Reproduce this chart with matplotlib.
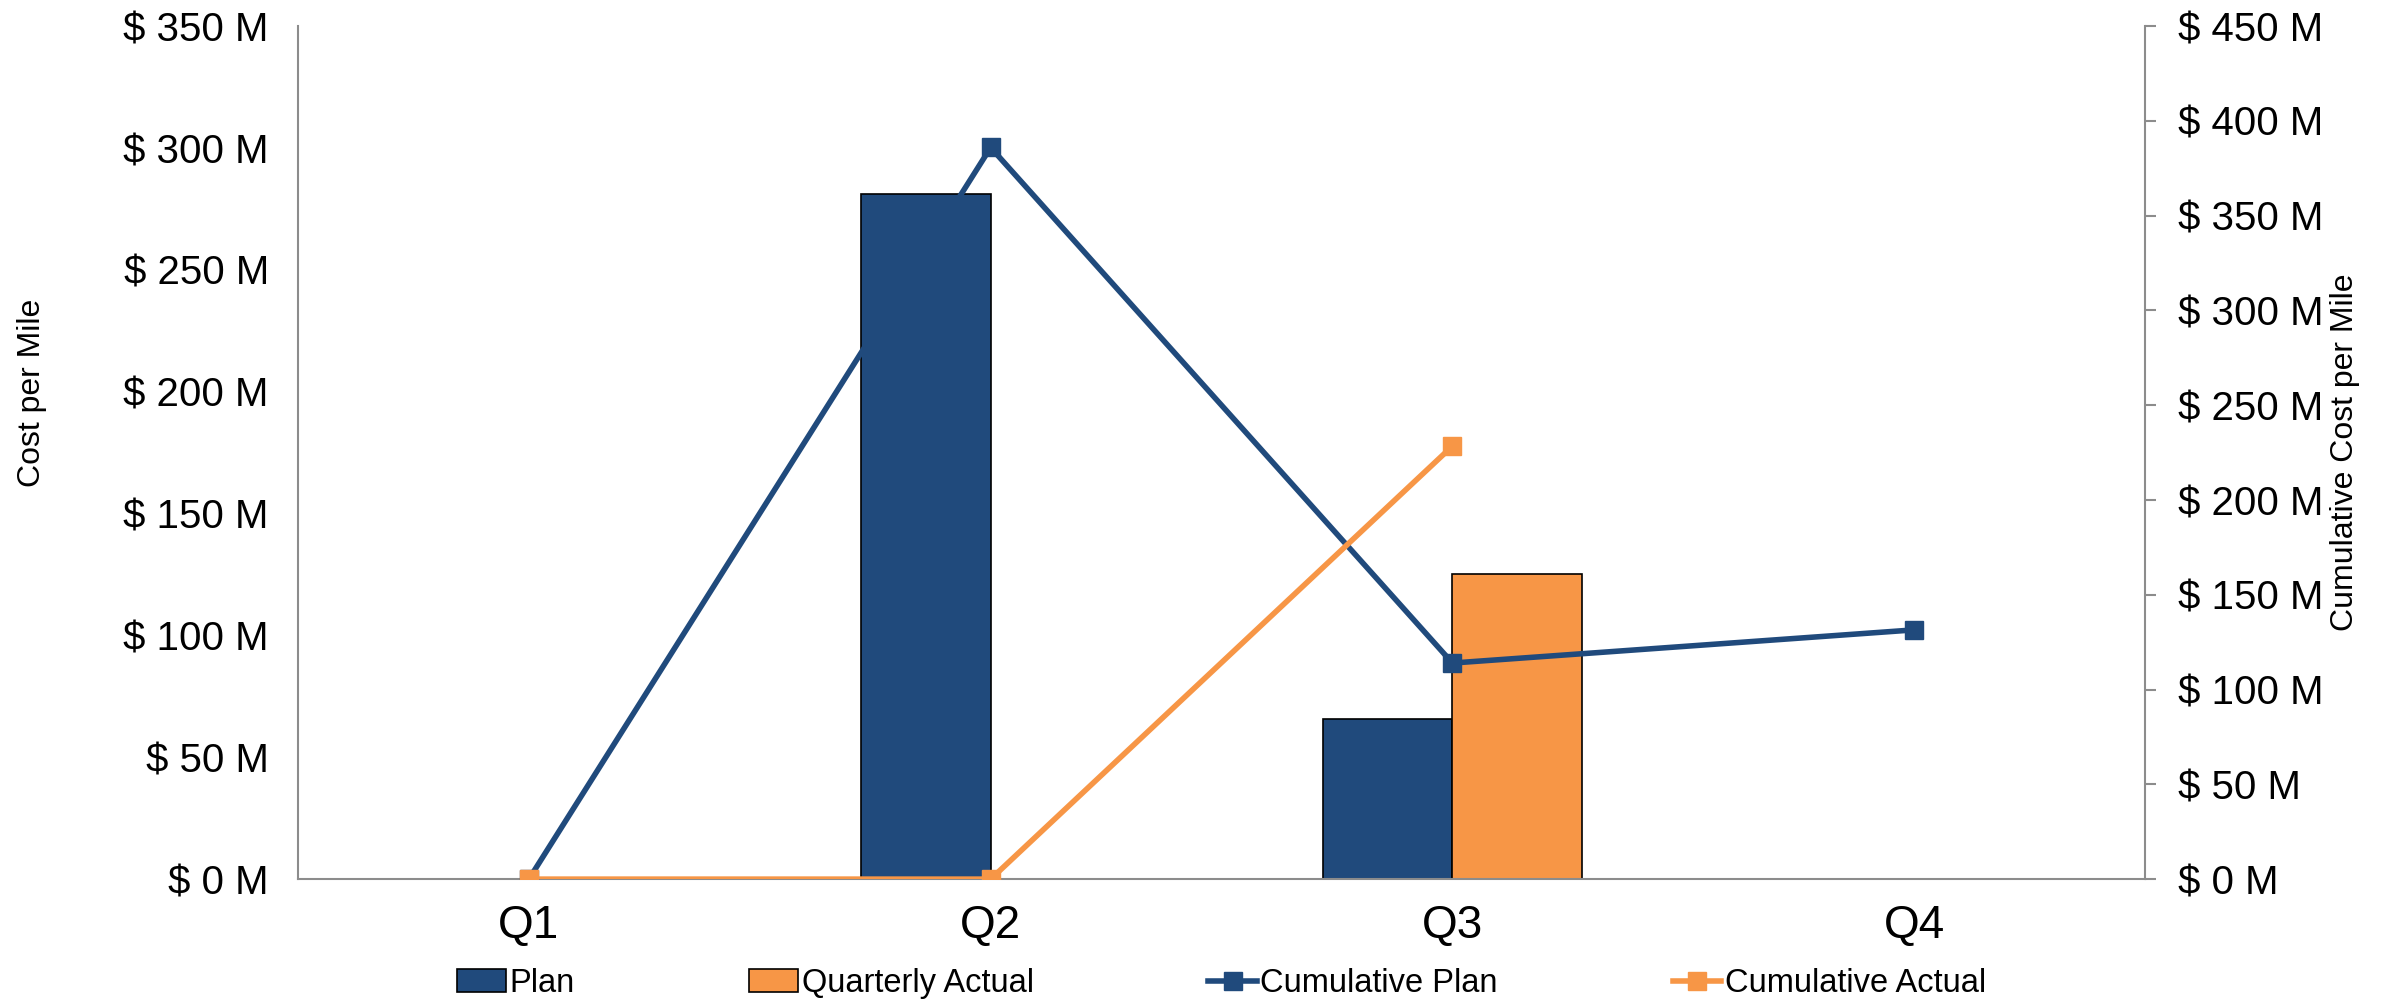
import numpy as np
import matplotlib.pyplot as plt
from matplotlib.ticker import FuncFormatter

plt.rcParams['font.family'] = ['Liberation Sans', 'DejaVu Sans']

quarters = ["Q1", "Q2", "Q3", "Q4"]
plan = [0, 281, 65.5, 0]
quarterly_actual = [0, 0, 125, 0]
cumulative_plan = [0, 386, 114, 131.5]
cumulative_actual = [0, 0, 228.5, np.nan]

blue = "#204a7c"
orange = "#f79646"
grey = "#8c8c8c"

fig = plt.figure(figsize=(23.84, 10.07), dpi=100)
ax = fig.add_axes([0.125, 0.127, 0.7748, 0.847])
ax2 = ax.twinx()

x = np.arange(len(quarters))
w = 0.28
ax.bar(x - w / 2, plan, w, color=blue, edgecolor="black", linewidth=1.2, label="Plan")
ax.bar(x + w / 2, quarterly_actual, w, color=orange, edgecolor="black", linewidth=1.2,
       label="Quarterly Actual")

ax2.plot(x, cumulative_plan, color=blue, lw=4, marker="s", markersize=13,
         label="Cumulative Plan")
ax2.plot(x, cumulative_actual, color=orange, lw=4, marker="s", markersize=13,
         label="Cumulative Actual")

money = FuncFormatter(lambda v, p: "$ %d M" % v)

ax.set_xlim(-0.5, 3.5)
ax.set_ylim(0, 350)
ax.set_yticks(np.arange(0, 351, 50))
ax.yaxis.set_major_formatter(money)
ax.set_xticks(x)
ax.set_xticklabels(quarters)
ax.tick_params(axis="y", length=0, pad=21, labelsize=29)
ax.tick_params(axis="x", length=0, pad=18, labelsize=33)

ax2.set_ylim(0, 450)
ax2.set_yticks(np.arange(0, 451, 50))
ax2.yaxis.set_major_formatter(money)
ax2.tick_params(axis="y", length=8, width=1.5, color=grey, pad=16, labelsize=29)

for s in ["top", "right"]:
    ax.spines[s].set_visible(False)
for s in ["top", "left", "bottom"]:
    ax2.spines[s].set_visible(False)
for sp in [ax.spines["left"], ax.spines["bottom"], ax2.spines["right"]]:
    sp.set_color(grey)
    sp.set_linewidth(1.5)

ax.set_ylabel("Cost per Mile", fontsize=23)
ax.yaxis.set_label_coords(-0.136, 0.57)
ax2.set_ylabel("Cumulative Cost per Mile", fontsize=23)
ax2.yaxis.set_label_coords(1.1, 0.5)

h1, l1 = ax.get_legend_handles_labels()
h2, l2 = ax2.get_legend_handles_labels()
fig.legend(h1 + h2, l1 + l2, loc="center", bbox_to_anchor=(0.5124, 0.023), ncol=4,
           frameon=False, fontsize=23.5, handlelength=1.5, handletextpad=0.1,
           columnspacing=5.35)

fig.savefig("out.png", dpi=100)
